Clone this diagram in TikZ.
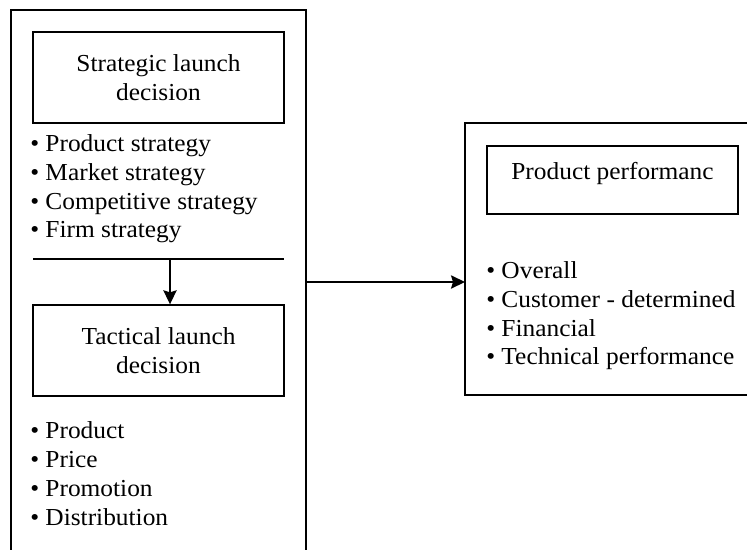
\documentclass[tikz,border=0pt]{standalone}
\usepackage{fontspec}
\setmainfont{Liberation Serif}[FakeStretch=1.04]
\usetikzlibrary{arrows.meta}
\tikzset{block/.style = {draw, fill=white, line width=1.05pt, rectangle, minimum height=68.25pt, minimum width=188.25pt, align=center, inner sep=0pt},
         pblock/.style = {draw, fill=white, line width=1.05pt, rectangle, minimum height=51pt, minimum width=188.25pt, inner sep=0pt},
         items/.style = {align=left, inner sep=0pt, anchor=north west},
         frame/.style = {line width=1.05pt},
         link/.style = {line width=1.05pt, -{Stealth[length=10.5pt, width=10pt, inset=1.5pt]}}}
\begin{document}
\begin{tikzpicture}[x=0.75pt, y=-0.75pt, font=\fontsize{18.3}{21.6}\selectfont]
        \useasboundingbox (0,0) rectangle (747,550);
        % outer frames
        \coordinate (lnw) at (11,10);
        \coordinate (lne) at (306,10);
        \coordinate (rnw) at (465,123);
        \draw[frame] (11,552) -- (lnw) -- (lne) -- (306,552);
        \draw[frame] (750,123) -- (rnw) -- (465,395) -- (750,395);
        % strategic part
        \node[block](strat)at(158.5,77.5){Strategic launch\\decision};
        \node[items](stratlist)at(30,134.3){\textbullet\ Product strategy\\\textbullet\ Market strategy\\\textbullet\ Competitive strategy\\\textbullet\ Firm strategy};
        \coordinate (sepl) at (33,259);
        \coordinate (sepr) at (284,259);
        \coordinate (sepm) at (170,259);
        \draw[frame] (sepl) -- (sepr);
        % tactical part
        \node[block](tact)at(158.5,350.5){Tactical launch\\decision};
        \draw[link] (sepm) -- (sepm |- tact.north);
        \node[items](tactlist)at(30,421.6){\textbullet\ Product\\\textbullet\ Price\\\textbullet\ Promotion\\\textbullet\ Distribution};
        % performance part
        \node[pblock](perf)at(612.5,180){};
        \node(perftext)at(612.5,174){Product performanc};
        \node[items](perflist)at(486,261.3){\textbullet\ Overall\\\textbullet\ Customer - determined\\\textbullet\ Financial\\\textbullet\ Technical performance};
        \coordinate (out) at (306,282);
        \draw[link] (out) -- (out -| rnw);
    \end{tikzpicture}
\end{document}
